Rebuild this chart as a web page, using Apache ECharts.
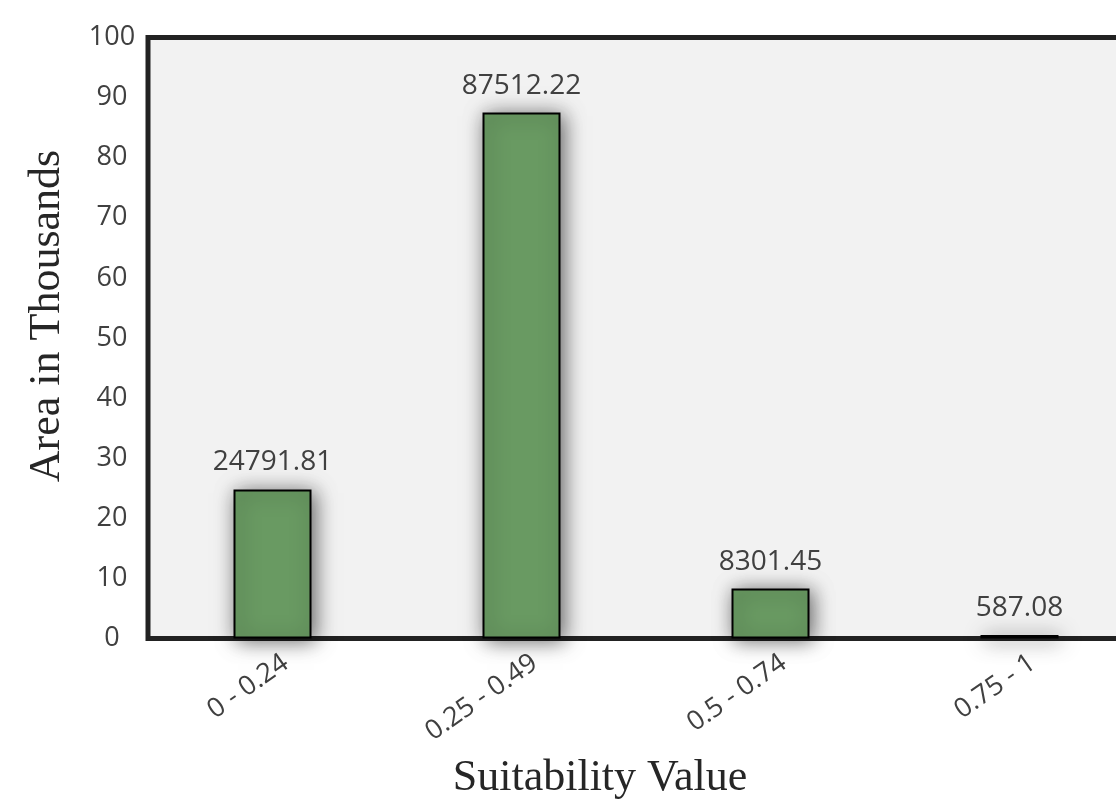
<!DOCTYPE html>
<html>
<head>
<meta charset="utf-8">
<script src="https://cdn.jsdelivr.net/npm/echarts@6/dist/echarts.min.js"></script>
<style>
  html, body { margin: 0; padding: 0; background: #ffffff; overflow: hidden; }
  /* plot frame runs past the right edge of the window, so the canvas is wider */
  #chart { width: 1160px; height: 801px; }
</style>
</head>
<body>
<div id="chart"></div>
<script>
// Suitability classes and their area (square units)
const categories = ['0 - 0.24', '0.25 - 0.49', '0.5 - 0.74', '0.75 - 1'];
const areaValues = [24791.81, 87512.22, 8301.45, 587.08];
const valueLabels = ['24791.81', '87512.22', '8301.45', '587.08'];
const yAxisTitle = 'Area in Thousands';
const xAxisTitle = 'Suitability Value';

const chart = echarts.init(document.getElementById('chart'), null, { renderer: 'canvas' });

const sansFont = '"Open Sans", "Noto Sans", sans-serif';
const serifFont = '"Liberation Serif", "DejaVu Serif", serif';

chart.setOption({
  animation: false,
  backgroundColor: '#ffffff',
  grid: {
    left: 148,
    top: 37.5,
    width: 996,
    height: 601,
    show: true,
    backgroundColor: '#f2f2f2',
    borderColor: '#222222',
    borderWidth: 5
  },
  xAxis: {
    type: 'category',
    data: categories,
    z: 0,
    axisLine: { show: true, lineStyle: { color: '#222222', width: 4 } },
    axisTick: { show: false },
    axisLabel: {
      rotate: 35,
      interval: 0,
      margin: 3,
      verticalAlign: 'top',
      lineHeight: 46,
      fontFamily: sansFont,
      fontSize: 27,
      color: '#404040'
    },
    splitLine: { show: false }
  },
  yAxis: {
    type: 'value',
    min: 0,
    max: 100000,
    interval: 10000,
    axisLine: { show: false },
    axisTick: { show: false },
    splitLine: { show: false },
    axisLabel: {
      formatter: v => String(v / 1000),
      align: 'center',
      margin: 36,
      fontFamily: sansFont,
      fontSize: 27,
      color: '#404040'
    }
  },
  series: [{
    type: 'bar',
    data: areaValues,
    barWidth: 78,
    z: 3,
    itemStyle: {
      color: '#699a62',
      borderColor: '#000000',
      borderWidth: 2,
      shadowBlur: 20,
      shadowColor: 'rgba(0,0,0,0.6)',
      shadowOffsetX: 3,
      shadowOffsetY: 2
    },
    label: {
      show: true,
      position: 'top',
      distance: 13,
      formatter: p => valueLabels[p.dataIndex],
      fontFamily: sansFont,
      fontSize: 28,
      color: '#404040'
    }
  }],
  graphic: [
    {
      type: 'text',
      x: 47,
      y: 316,
      rotation: Math.PI / 2,
      style: {
        text: yAxisTitle,
        font: '44px ' + serifFont,
        fill: '#262626',
        textAlign: 'center',
        textVerticalAlign: 'middle'
      }
    },
    {
      type: 'text',
      x: 600,
      y: 778,
      style: {
        text: xAxisTitle,
        font: '44px ' + serifFont,
        fill: '#262626',
        textAlign: 'center',
        textVerticalAlign: 'middle'
      }
    }
  ]
});
</script>
</body>
</html>
